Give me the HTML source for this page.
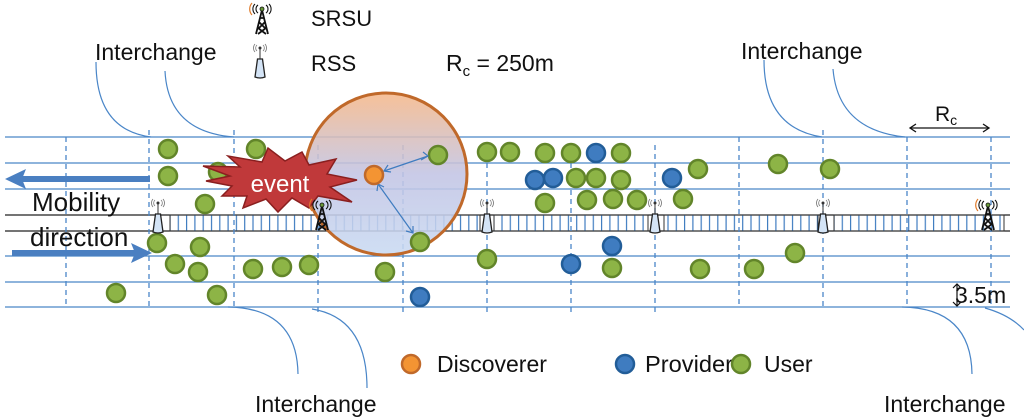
<!DOCTYPE html>
<html><head><meta charset="utf-8"><style>
html,body{margin:0;padding:0;background:#fff;}
svg{display:block;}
text{font-family:"Liberation Sans",sans-serif;fill:#111;}
</style></head><body>
<svg width="1024" height="420" viewBox="0 0 1024 420" xmlns="http://www.w3.org/2000/svg">
<defs>
<linearGradient id="cg" x1="0" y1="0" x2="0" y2="1">
<stop offset="0" stop-color="#f5b88a"/>
<stop offset="0.5" stop-color="#c2c4e4"/>
<stop offset="1" stop-color="#c9daf2"/>
</linearGradient>
<pattern id="hatch" x="0" y="0" width="8.3" height="16" patternUnits="userSpaceOnUse">
<line x1="4" y1="0" x2="4" y2="16" stroke="#3f7cc0" stroke-width="1.2"/>
</pattern>
<g id="rss"><line x1="0" y1="-16" x2="0" y2="-5" stroke="#333" stroke-width="1"/><circle cx="0" cy="-16" r="1.5" fill="#333"/><path d="M-3,-19 a4,4 0 0 0 0,6 M3,-19 a4,4 0 0 1 0,6 M-5,-20 a6,6 0 0 0 0,8 M5,-20 a6,6 0 0 1 0,8" fill="none" stroke="#777" stroke-width="0.8"/><path d="M-2.5,-5 L2.5,-5 L5,13 Q0,15 -5,13 Z" fill="#d4e4f6" stroke="#222" stroke-width="1.3"/></g>
<g id="srsu"><path d="M0,-12 L-6,12 M0,-12 L6,12 M-3,0 L3,6 M3,0 L-3,6 M-4,6 L4,12 M4,6 L-4,12 M-2,-4 L2,-4" fill="none" stroke="#111" stroke-width="1.8"/><circle cx="0" cy="-13" r="2" fill="#6a9a3a" stroke="#111" stroke-width="0.8"/><path d="M-4,-17 a5,5 0 0 0 0,8 M4,-17 a5,5 0 0 1 0,8 M-7,-18 a7,7 0 0 0 0,10 M7,-18 a7,7 0 0 1 0,10" fill="none" stroke="#111" stroke-width="1.1"/><path d="M-10,-19 a9,9 0 0 0 0,12" fill="none" stroke="#e07b2a" stroke-width="1.2"/></g>
<g id="gd"><circle r="9" fill="#8db446" stroke="#62852a" stroke-width="2.5"/></g>
<g id="bd"><circle r="9" fill="#3f7cc0" stroke="#225d98" stroke-width="2.5"/></g>
</defs>

<g stroke="#4a86c8" stroke-width="1.3">
<line x1="5" y1="137" x2="1010" y2="137"/>
<line x1="5" y1="163" x2="1010" y2="163"/>
<line x1="5" y1="189" x2="1010" y2="189"/>
<line x1="5" y1="256" x2="1010" y2="256"/>
<line x1="5" y1="282" x2="1010" y2="282"/>
<line x1="5" y1="307" x2="1010" y2="307"/>
</g>
<g stroke="#222" stroke-width="1.3">
<line x1="5" y1="215" x2="1010" y2="215"/>
<line x1="5" y1="231" x2="1010" y2="231"/>
</g>
<g stroke="#333" stroke-width="1">
<rect x="170" y="215" width="310" height="16" fill="url(#hatch)"/>
<rect x="494" y="215" width="154" height="16" fill="url(#hatch)"/>
<rect x="664" y="215" width="154" height="16" fill="url(#hatch)"/>
<rect x="834" y="215" width="170" height="16" fill="url(#hatch)"/>
</g>

<g stroke="#4a86c8" stroke-width="1.3" stroke-dasharray="5,4">
<line x1="66" y1="137" x2="66" y2="307"/>
<line x1="149" y1="130" x2="149" y2="307"/>
<line x1="234" y1="130" x2="234" y2="307"/>
<line x1="318" y1="145" x2="318" y2="312"/>
<line x1="403" y1="145" x2="403" y2="313"/>
<line x1="487" y1="145" x2="487" y2="313"/>
<line x1="571" y1="145" x2="571" y2="313"/>
<line x1="655" y1="145" x2="655" y2="313"/>
<line x1="739" y1="137" x2="739" y2="307"/>
<line x1="823" y1="130" x2="823" y2="307"/>
<line x1="907" y1="137" x2="907" y2="307"/>
<line x1="991" y1="137" x2="991" y2="307"/>
</g>

<g fill="none" stroke="#4a86c8" stroke-width="1.2">
<path d="M96,62 Q96,130 151,137"/>
<path d="M165,71 Q168,132 234,137"/>
<path d="M764,60 Q764,128 822,137"/>
<path d="M833,69 Q838,130 905,137"/>
<path d="M228,307 Q297,308 298,374"/>
<path d="M312,309 Q367,318 367,388"/>
<path d="M902,307 Q971,308 972,374"/>
<path d="M985,308 Q1010,315 1024,330"/>
</g>

<circle cx="386" cy="174" r="81" fill="url(#cg)" fill-opacity="0.88" stroke="#c0692a" stroke-width="3"/>

<g fill="#4a7fc1">
<rect x="20" y="176" width="130" height="6"/>
<path d="M5,179 L26,169 L22,179 L26,189 Z"/>
<rect x="12" y="250" width="124" height="6"/>
<path d="M152,253 L131,243 L135,253 L131,263 Z"/>
</g>

<use href="#gd" x="218" y="172"/>
<use href="#gd" x="168" y="149"/><use href="#gd" x="256" y="149"/><use href="#gd" x="438" y="155"/>
<use href="#gd" x="487" y="152"/><use href="#gd" x="510" y="152"/><use href="#gd" x="545" y="153"/><use href="#gd" x="571" y="153"/><use href="#bd" x="596" y="153"/><use href="#gd" x="621" y="153"/>
<use href="#gd" x="168" y="176"/>
<use href="#bd" x="535" y="180"/><use href="#bd" x="553" y="178"/><use href="#gd" x="576" y="178"/><use href="#gd" x="596" y="178"/><use href="#gd" x="621" y="180"/><use href="#bd" x="672" y="178"/><use href="#gd" x="698" y="169"/><use href="#gd" x="778" y="164"/><use href="#gd" x="830" y="169"/>
<use href="#gd" x="205" y="204"/><use href="#gd" x="545" y="203"/><use href="#gd" x="587" y="200"/><use href="#gd" x="613" y="199"/><use href="#gd" x="637" y="200"/><use href="#gd" x="683" y="199"/>
<use href="#gd" x="157" y="243"/><use href="#gd" x="200" y="247"/><use href="#gd" x="420" y="242"/>
<use href="#gd" x="175" y="264"/><use href="#gd" x="198" y="272"/><use href="#gd" x="253" y="269"/><use href="#gd" x="282" y="267"/><use href="#gd" x="309" y="265"/><use href="#gd" x="385" y="272"/><use href="#gd" x="487" y="259"/><use href="#bd" x="571" y="264"/><use href="#bd" x="612" y="246"/><use href="#gd" x="612" y="268"/><use href="#gd" x="700" y="269"/><use href="#gd" x="754" y="269"/><use href="#gd" x="795" y="253"/>
<use href="#gd" x="116" y="293"/><use href="#gd" x="217" y="295"/><use href="#bd" x="420" y="297"/>

<g stroke="#3f7cc0" stroke-width="1.2" fill="none">
<line x1="384" y1="171" x2="428" y2="156"/>
<path d="M388,165 L384,171 L391,172 M423,152 L428,156 L421,160"/>
<line x1="378" y1="184" x2="413" y2="233"/>
<path d="M377,191 L378,184 L384,187 M406,231 L413,233 L413,226"/>
</g>
<circle cx="374" cy="175" r="9" fill="#f39433" stroke="#c0692a" stroke-width="2.5"/>

<polygon points="203,166 240,167 228,156 262,162 268,148 285,161 302,152 309,165 336,159 327,174 357,180 330,187 352,202 318,196 309,208 292,198 278,212 266,199 243,208 247,196 222,196 232,186 206,181 230,176" fill="#c0393a" stroke="#8a1f1f" stroke-width="1.5"/>
<text x="280" y="192" font-size="24" text-anchor="middle" style="fill:#fff">event</text>

<use href="#rss" x="158" y="219"/>
<use href="#rss" x="487" y="219"/>
<use href="#rss" x="655" y="219"/>
<use href="#rss" x="823" y="219"/>
<use href="#srsu" x="322" y="218"/>
<use href="#srsu" x="988" y="218"/>

<use href="#srsu" x="262" y="22"/>
<text x="311" y="26" font-size="22">SRSU</text>
<use href="#rss" x="260" y="64"/>
<text x="311" y="71" font-size="22">RSS</text>
<text x="446" y="71" font-size="23">R<tspan font-size="15" dy="5">c</tspan><tspan dy="-5"> = 250m</tspan></text>
<text x="95" y="60" font-size="23">Interchange</text>
<text x="741" y="59" font-size="23">Interchange</text>
<text x="255" y="412" font-size="23">Interchange</text>
<text x="884" y="412" font-size="23">Interchange</text>

<text x="32" y="211" font-size="26">Mobility</text>
<text x="30" y="246" font-size="26">direction</text>

<line x1="910" y1="128" x2="989" y2="128" stroke="#111" stroke-width="1.3"/>
<path d="M916,124 L910,128 L916,132 M983,124 L989,128 L983,132" fill="none" stroke="#111" stroke-width="1.3"/>
<text x="935" y="121" font-size="21">R<tspan font-size="14" dy="4">c</tspan></text>

<line x1="957" y1="284" x2="957" y2="306" stroke="#111" stroke-width="1.2"/>
<path d="M953,288 L957,284 L961,288 M953,302 L957,306 L961,302" fill="none" stroke="#111" stroke-width="1.2"/>
<text x="955" y="303" font-size="23">3.5m</text>

<circle cx="411" cy="364" r="9" fill="#f39433" stroke="#c0692a" stroke-width="2.5"/>
<text x="437" y="372" font-size="23">Discoverer</text>
<use href="#bd" x="625" y="364"/>
<text x="645" y="372" font-size="23" textLength="88" lengthAdjust="spacingAndGlyphs">Provider</text>
<use href="#gd" x="741" y="364"/>
<text x="764" y="372" font-size="23">User</text>
</svg>
</body></html>
